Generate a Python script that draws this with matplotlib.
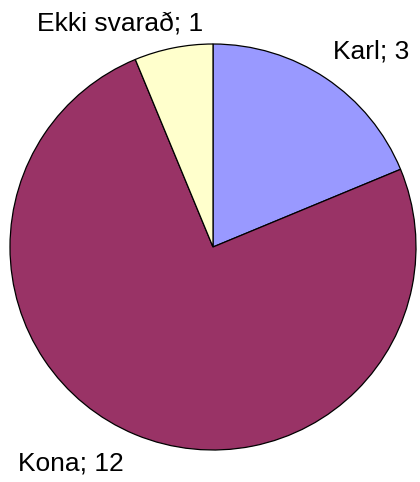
import matplotlib.pyplot as plt

# data
labels = ["Karl", "Kona", "Ekki svarað"]
values = [3, 12, 1]
colors = ["#9999FF", "#993366", "#FFFFCC"]

# label anchor points in pixels (x, y from top), and alignment
label_pos = [(333, 58), (18, 470), (120, 31)]
label_ha = ["left", "left", "center"]

W, H = 420, 482
fig = plt.figure(figsize=(W / 100, H / 100), dpi=100)
ax = fig.add_axes([0, 0, 1, 1])

ax.pie(values, colors=colors, startangle=90, counterclock=False,
       center=(213, H - 247), radius=203, frame=True,
       wedgeprops={"edgecolor": "black", "linewidth": 0.9})
ax.set_xlim(0, W)
ax.set_ylim(0, H)
ax.set_aspect("equal")
ax.axis("off")

for lab, val, (px, py), ha in zip(labels, values, label_pos, label_ha):
    ax.text(px, H - py, f"{lab}; {val}", ha=ha, va="baseline",
            fontsize=19, family="Liberation Sans", color="black")

fig.savefig("out.png", dpi=100)
